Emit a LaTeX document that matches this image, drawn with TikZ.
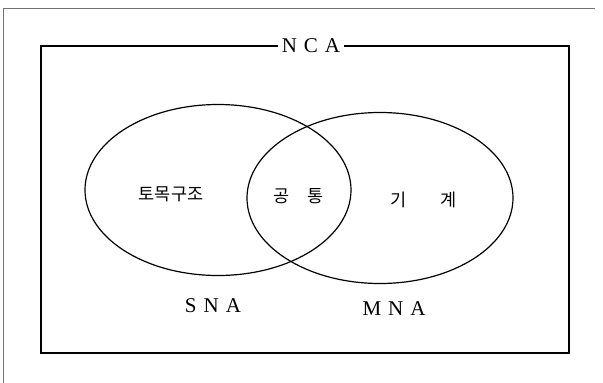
\documentclass[tikz,border=0pt]{standalone}
\usepackage{fontspec}
\setmainfont{Liberation Serif}
\newfontfamily\krfont{Noto Sans CJK KR}
\usetikzlibrary{shapes.geometric}
\newcommand\lsp{\hspace{7pt}}
\tikzset{
  set/.style={draw, ellipse, line width=1.2pt, minimum width=266pt, minimum height=171pt, inner sep=0pt},
  lat/.style={font=\fontsize{21}{21}\selectfont, inner sep=0pt},
  kor/.style={font=\krfont\fontsize{17.5}{17.5}\selectfont, inner sep=0pt},
  frame/.style={line width=1.5pt},
  page/.style={draw=black!55, line width=0.6pt}
}
\begin{document}
\begin{tikzpicture}[x=1pt,y=-1pt]
\useasboundingbox (0,0) rectangle (603,383);
% page edge lines
\coordinate (pb) at (3,383);
\coordinate (pc) at (3,8);
\coordinate (pr) at (595,8);
\draw[page] (pb) -- (pc) -- (pr);
% frame
\draw[frame] (41,46) rectangle (569,353);
\node[lat, fill=white, inner xsep=4pt, inner ysep=2pt] (nca) at (311,46) {N\lsp C\lsp A};
% sets
\node[set] (sna) at (218,190) {};
\node[set] (mna) at (380,198) {};
% labels
\node[kor] (civ) at (171,194) {토목구조};
\node[kor] (com) at (299,196) {공\hspace{18pt}통};
\node[kor] (mec) at (424,200) {기\hspace{34pt}계};
\node[lat] (snal) at (213,306) {S\lsp N\lsp A};
\node[lat] (mnal) at (394,309) {M\lsp N\lsp A};
\end{tikzpicture}
\end{document}
